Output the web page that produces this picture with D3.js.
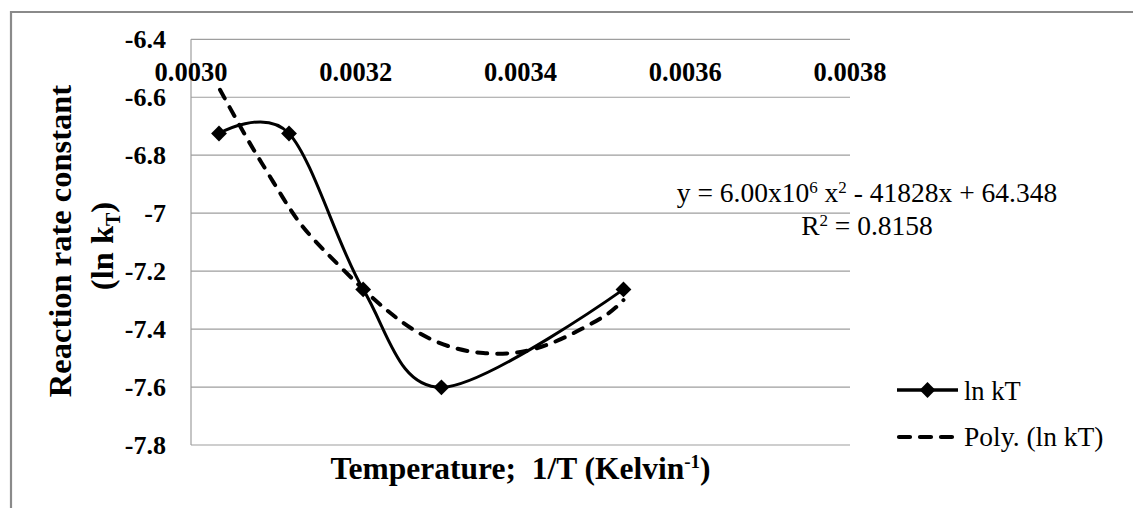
<!DOCTYPE html>
<html>
<head>
<meta charset="utf-8">
<script src="https://cdn.jsdelivr.net/npm/d3@7/dist/d3.min.js"></script>
<style>
  html, body { margin: 0; padding: 0; background: #fff; }
  svg { display: block; }
  text { font-family: "Liberation Serif", "Times New Roman", serif; fill: #000; }
</style>
</head>
<body>
<svg id="chart" width="1133" height="508"></svg>
<script>
// ---- data ----
const invT = [0.003034, 0.003119, 0.003209, 0.003304, 0.003525];
const lnKT = [-6.725, -6.725, -7.263, -7.601, -7.263];

// polynomial trendline as drawn in the reference
const polyX = [0.0030352, 0.0030676, 0.0030838, 0.0031121, 0.0031324, 0.0031607, 0.0032092, 0.0032417,
               0.0032741, 0.0033145, 0.0033549, 0.0033955, 0.0034359, 0.0034764, 0.0035088, 0.0035250];
const polyY = [-6.574, -6.742, -6.817, -6.950, -7.040, -7.127, -7.265, -7.346,
               -7.414, -7.466, -7.486, -7.486, -7.455, -7.397, -7.346, -7.300];

const xTicks = [0.0030, 0.0032, 0.0034, 0.0036, 0.0038];
const yTicks = [-6.4, -6.6, -6.8, -7.0, -7.2, -7.4, -7.6, -7.8];
const yTickLabels = ["-6.4", "-6.6", "-6.8", "-7", "-7.2", "-7.4", "-7.6", "-7.8"];
const xTickLabels = ["0.0030", "0.0032", "0.0034", "0.0036", "0.0038"];
const seriesNames = ["ln kT", "Poly. (ln kT)"];

// ---- layout ----
const svg = d3.select("#chart");
const plot = { left: 191, right: 850, top: 39.3, bottom: 445 };

const x = d3.scaleLinear().domain([0.0030, 0.0038]).range([plot.left, plot.right]);
const y = d3.scaleLinear().domain([-7.8, -6.4]).range([plot.bottom, plot.top]);

// outer frame (open at right/bottom as in the cropped reference)
svg.append("path")
  .attr("d", "M11,508 L11,12 L1133,12")
  .attr("fill", "none").attr("stroke", "#8a8a8a").attr("stroke-width", 2.2);

// gridlines
svg.append("g").selectAll("line").data(yTicks).join("line")
  .attr("x1", plot.left).attr("x2", plot.right)
  .attr("y1", d => y(d)).attr("y2", d => y(d))
  .attr("stroke", "#9e9e9e").attr("stroke-width", 1.2);

// left axis line
svg.append("line")
  .attr("x1", plot.left).attr("x2", plot.left)
  .attr("y1", plot.top).attr("y2", plot.bottom)
  .attr("stroke", "#9e9e9e").attr("stroke-width", 1.2);

// y tick labels
svg.append("g").selectAll("text").data(yTicks).join("text")
  .attr("x", 166).attr("y", d => y(d) + 9)
  .attr("text-anchor", "end")
  .style("font-weight", "bold").style("font-size", "26px")
  .text((d, i) => yTickLabels[i]);

// x tick labels (shown at the top, as in the reference)
svg.append("g").selectAll("text").data(xTicks).join("text")
  .attr("x", d => x(d)).attr("y", 81)
  .attr("text-anchor", "middle")
  .style("font-weight", "bold").style("font-size", "26.5px")
  .text((d, i) => xTickLabels[i]);

// poly trendline (dashed)
const polyPts = polyX.map((v, i) => [v, polyY[i]]);
svg.append("path")
  .datum(polyPts)
  .attr("d", d3.line().x(d => x(d[0])).y(d => y(d[1])).curve(d3.curveBasis))
  .attr("fill", "none").attr("stroke", "#000").attr("stroke-width", 4)
  .attr("stroke-dasharray", "10,10").attr("stroke-linecap", "round");

// smoothed data line
const pts = invT.map((v, i) => [v, lnKT[i]]);
svg.append("path")
  .datum(pts)
  .attr("d", d3.line().x(d => x(d[0])).y(d => y(d[1])).curve(d3.curveCatmullRom.alpha(0)))
  .attr("fill", "none").attr("stroke", "#000").attr("stroke-width", 3);

// diamond markers
const diamond = d3.symbol().type(d3.symbolSquare).size(125);
svg.append("g").selectAll("path").data(pts).join("path")
  .attr("d", diamond)
  .attr("transform", d => `translate(${x(d[0])},${y(d[1])}) rotate(45)`)
  .attr("fill", "#000");

// trendline equation
const eq = svg.append("text")
  .attr("x", 867).attr("y", 201.5)
  .attr("text-anchor", "middle")
  .style("font-size", "27.5px");
eq.append("tspan").text("y = 6.00x10");
eq.append("tspan").attr("dy", -9).style("font-size", "17px").text("6");
eq.append("tspan").attr("dy", 9).text(" x");
eq.append("tspan").attr("dy", -9).style("font-size", "17px").text("2");
eq.append("tspan").attr("dy", 9).text(" - 41828x + 64.348");

const r2 = svg.append("text")
  .attr("x", 867).attr("y", 235)
  .attr("text-anchor", "middle")
  .style("font-size", "27.5px");
r2.append("tspan").text("R");
r2.append("tspan").attr("dy", -9).style("font-size", "17px").text("2");
r2.append("tspan").attr("dy", 9).text(" = 0.8158");

// axis titles
const yTitle = svg.append("g").style("font-weight", "bold").style("font-size", "32.5px");
yTitle.append("text")
  .attr("transform", "translate(71,241) rotate(-90)")
  .attr("text-anchor", "middle")
  .text("Reaction rate constant");
const yt2 = yTitle.append("text")
  .attr("transform", "translate(113,246) rotate(-90)")
  .attr("text-anchor", "middle");
yt2.append("tspan").text("(ln k");
yt2.append("tspan").attr("dy", 7).style("font-size", "20px").text("T");
yt2.append("tspan").attr("dy", -7).text(")");

const xTitle = svg.append("text")
  .attr("x", (plot.left + plot.right) / 2).attr("y", 479)
  .attr("text-anchor", "middle")
  .style("font-weight", "bold").style("font-size", "31.5px");
xTitle.append("tspan").text("Temperature;\u00a0 1/T (Kelvin");
xTitle.append("tspan").attr("dy", -11).style("font-size", "19px").text("-1");
xTitle.append("tspan").attr("dy", 11).text(")");

// legend
const leg = svg.append("g");
leg.append("line").attr("x1", 897).attr("x2", 958).attr("y1", 390).attr("y2", 390)
  .attr("stroke", "#000").attr("stroke-width", 3.4);
leg.append("path").attr("d", diamond)
  .attr("transform", "translate(927.5,390) rotate(45)").attr("fill", "#000");
leg.append("text").attr("x", 964).attr("y", 400).style("font-size", "26.5px").text(seriesNames[0]);

leg.append("line").attr("x1", 899).attr("x2", 955).attr("y1", 437).attr("y2", 437)
  .attr("stroke", "#000").attr("stroke-width", 4.2)
  .attr("stroke-dasharray", "11,10").attr("stroke-linecap", "round");
leg.append("text").attr("x", 964).attr("y", 446).style("font-size", "27.5px").text(seriesNames[1]);
</script>
</body>
</html>
